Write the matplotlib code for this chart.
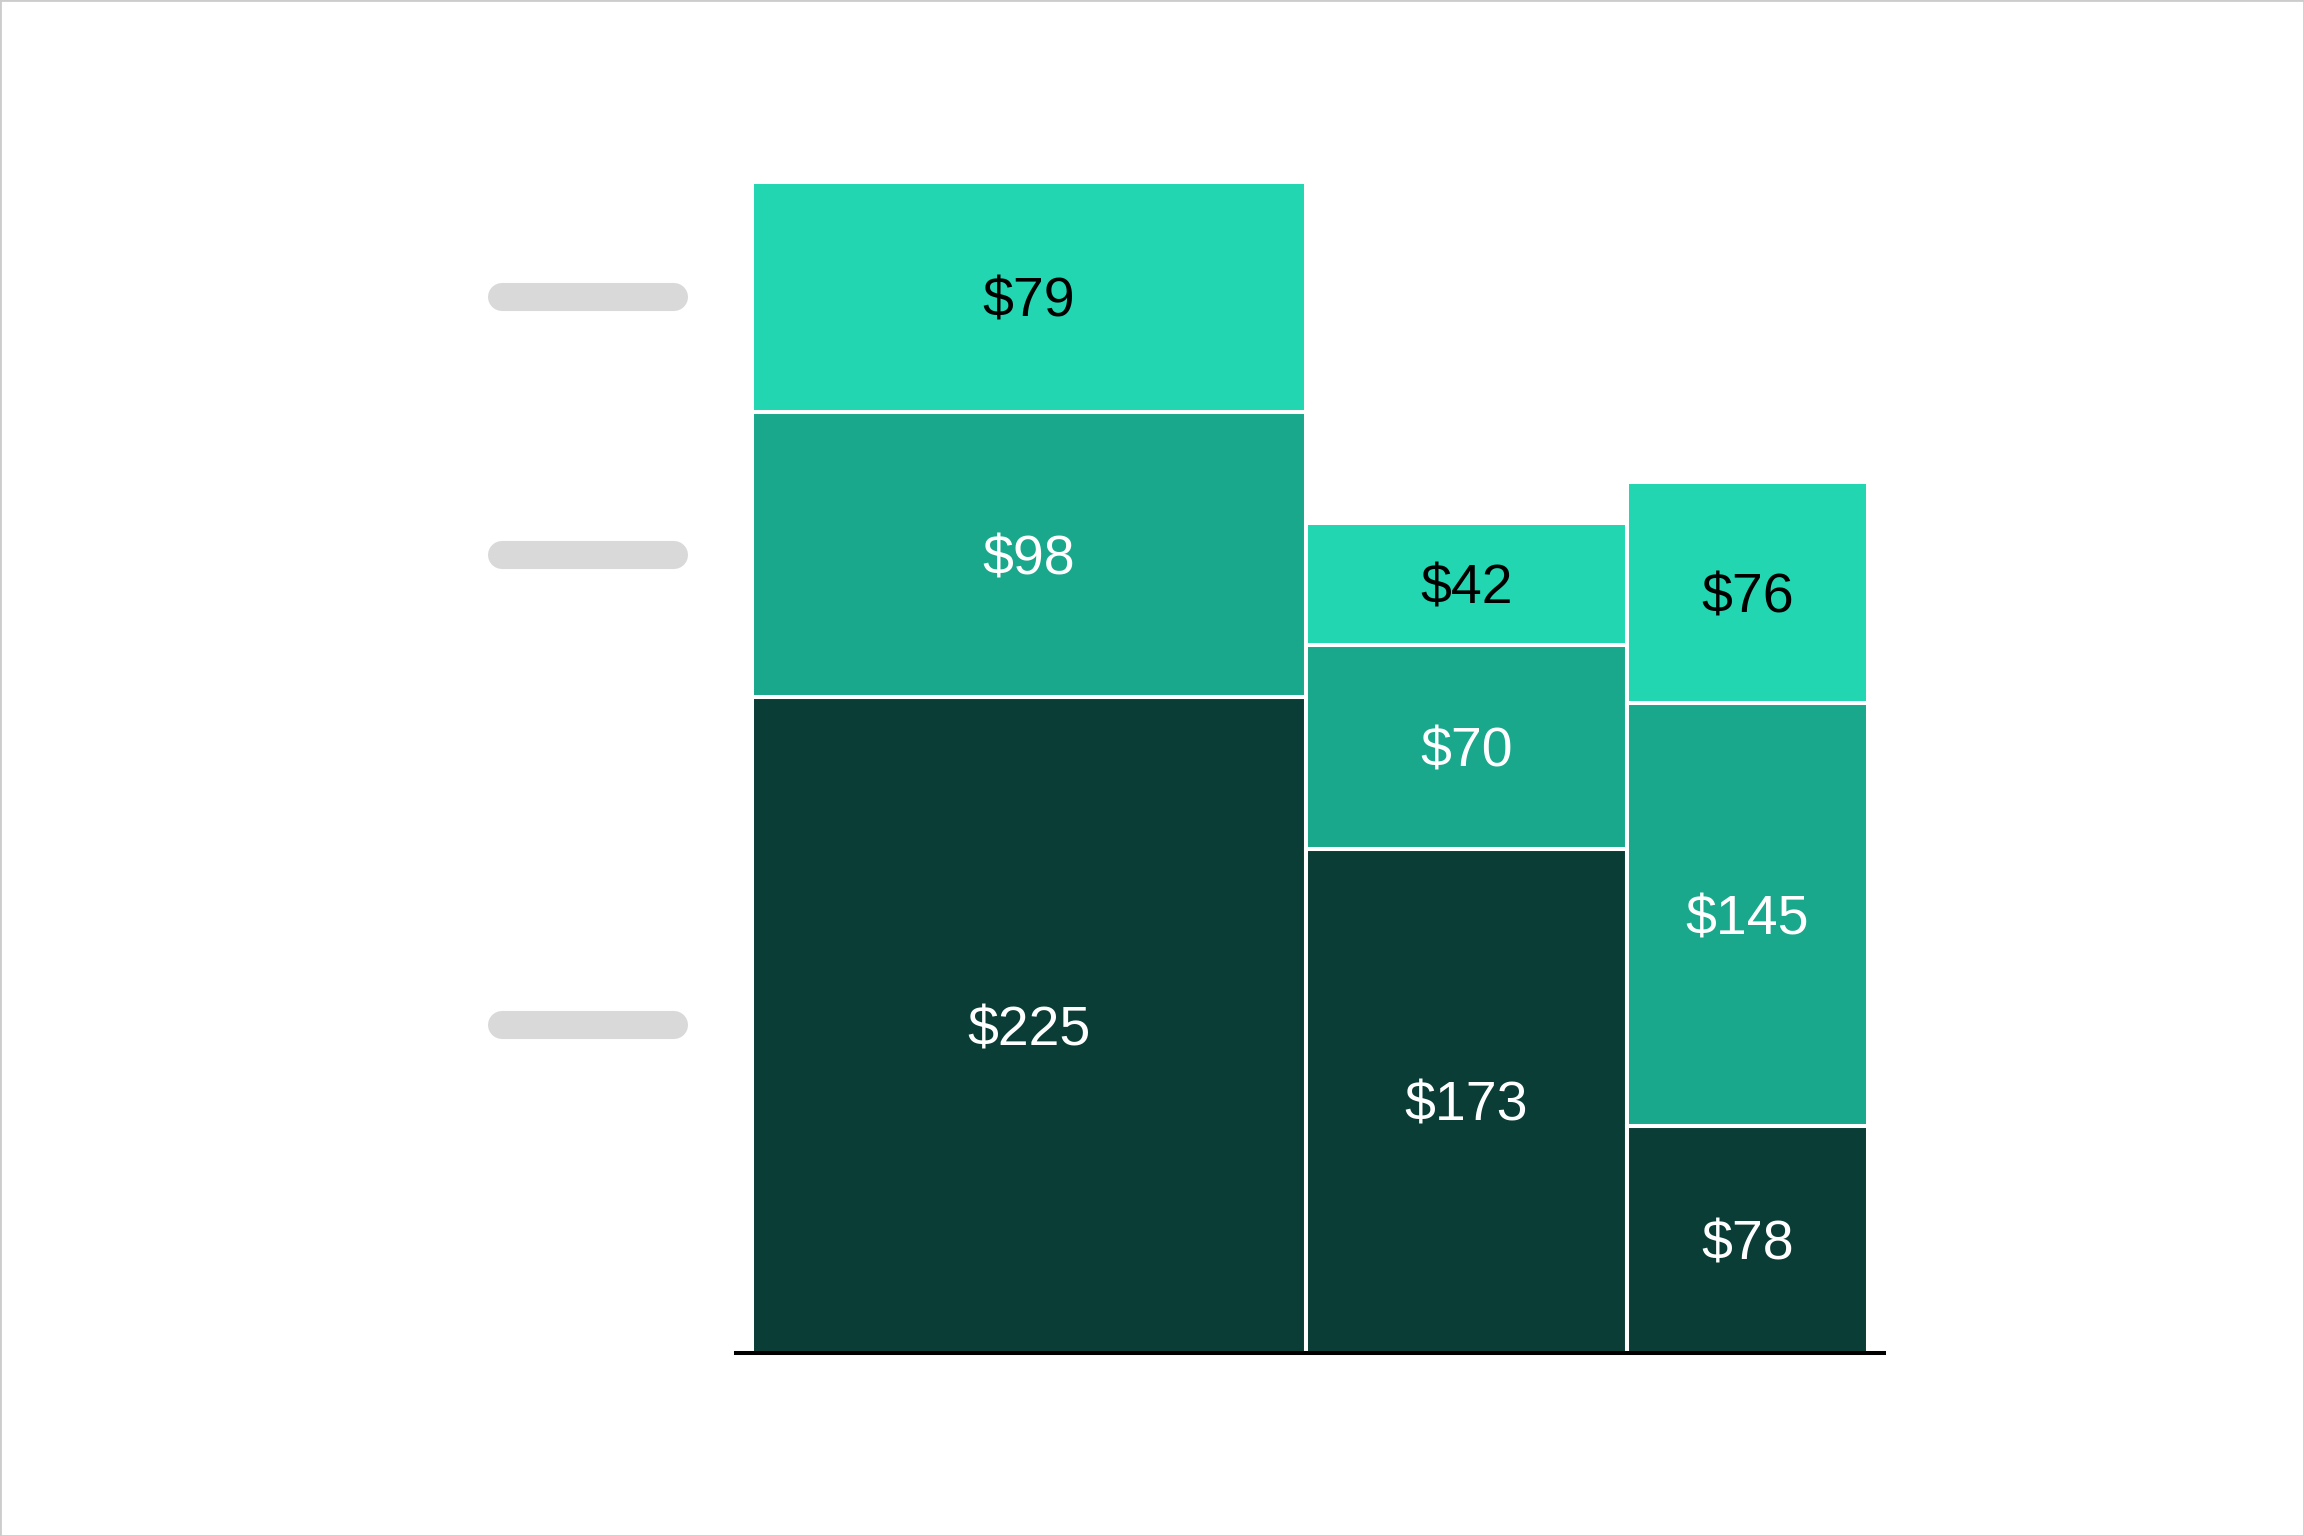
import matplotlib
matplotlib.use("Agg")
import matplotlib.pyplot as plt
from matplotlib.patches import Rectangle
from matplotlib.transforms import blended_transform_factory

plt.rcParams['font.family'] = ['Liberation Sans', 'DejaVu Sans']

# Data
categories = ["A", "B", "C"]
widths = [49.6, 28.8, 21.6]          # column width shares (%)
series_bottom = [225, 173, 78]
series_middle = [98, 70, 145]
series_top = [79, 42, 76]
series = [series_bottom, series_middle, series_top]
colors = ["#0A3D35", "#19A88B", "#21D6B0"]
text_colors = ["white", "white", "black"]

fig = plt.figure(figsize=(23.04, 15.36), dpi=100)
fig.patch.set_facecolor("white")
ax = fig.add_axes([736/2304, (1536-1353)/1536, 1148/2304, 1253/1536])

lefts = []
acc = 0
for w in widths:
    lefts.append(acc)
    acc += w

for i, (left, w) in enumerate(zip(lefts, widths)):
    bottom = 0
    for s, vals in enumerate(series):
        v = vals[i]
        ax.bar(left, v, width=w, bottom=bottom, align="edge",
               color=colors[s], edgecolor="white", linewidth=2.9)
        ax.text(left + w/2, bottom + v/2, f"${v}", ha="center", va="center_baseline",
                fontsize=40, color=text_colors[s])
        bottom += v

ax.set_xlim(-1.45, acc + 1.45)
ax.set_ylim(0, 430)
for sp in ["left", "right", "top"]:
    ax.spines[sp].set_visible(False)
ax.spines["bottom"].set_color("black")
ax.spines["bottom"].set_linewidth(2.9)
ax.spines["bottom"].set_zorder(5)
ax.set_xticks([])
ax.set_yticks([])

# placeholder label pills aligned with first column segments
trans = blended_transform_factory(fig.transFigure, ax.transData)
b = 0
for vals in series:
    v = vals[0]
    yc = b + v/2
    ax.plot([502/2304, 674/2304], [yc, yc], transform=trans, color="#D9D9D9",
            linewidth=20.2, solid_capstyle="round", clip_on=False)
    b += v

# outer frame
fig.patches.append(Rectangle((0, 0), 1, 1, transform=fig.transFigure,
                             fill=False, edgecolor="#CCCCCC", linewidth=2))

fig.savefig("out.png", dpi=100)
